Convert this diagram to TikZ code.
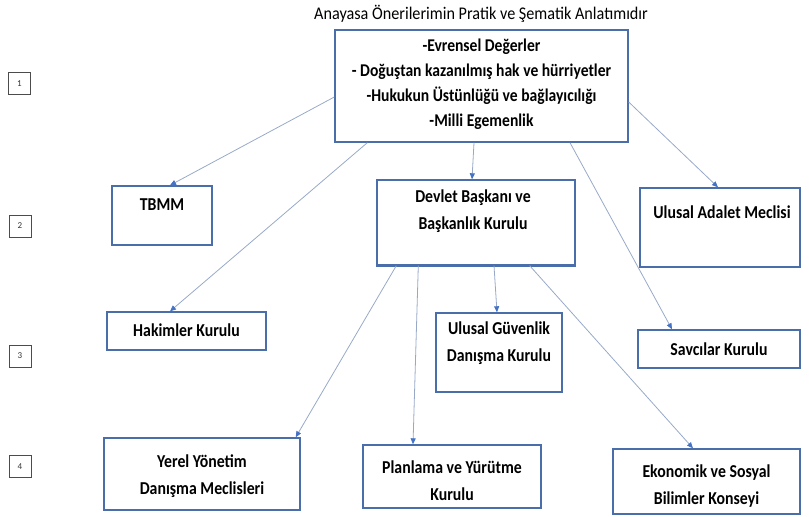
\documentclass[tikz,border=0pt]{standalone}
\usepackage{fontspec}
\setmainfont{Carlito}
\usetikzlibrary{arrows.meta}
\definecolor{boxblue}{HTML}{4A6EA9}
\definecolor{linecol}{HTML}{98A9C8}
\definecolor{tipcol}{HTML}{4472C4}
\tikzset{
  box/.style={draw=boxblue, line width=1.4pt, fill=white, inner sep=0pt},
  lbl/.style={font=\bfseries\fontsize{15.8}{23.5}\selectfont, align=center, inner sep=0pt, yscale=1.15, transform shape},
  numbox/.style={draw=black!70, line width=0.5pt, minimum width=22pt, minimum height=22pt, inner sep=0pt, font=\fontsize{9}{10}\selectfont, text=black!80},
  conn/.style={draw=linecol, line width=0.8pt, -{Triangle[width=5pt,length=6pt,color=tipcol]}}
}
\begin{document}
\begin{tikzpicture}[x=1pt,y=-1pt]
\useasboundingbox (0,0) rectangle (809,517);
% title
\node[font=\fontsize{16.2}{18}\selectfont, inner sep=0pt, yscale=1.1, transform shape] (title) at (481,14) {Anayasa Önerilerimin Pratik ve Şematik Anlatımıdır};
% number boxes
\node[numbox] (n1) at (19.5,83.5) {1};
\node[numbox] (n2) at (20,226) {2};
\node[numbox] (n3) at (20,356) {3};
\node[numbox] (n4) at (20,466.5) {4};
% boxes
\node[box, minimum width=293pt, minimum height=112pt] (top) at (481.5,86) {};
\node[lbl, font=\bfseries\fontsize{15.6}{21.8}\selectfont] (topT) at (481.5,84.5) {-Evrensel Değerler\\- Doğuştan kazanılmış hak ve hürriyetler\\-Hukukun Üstünlüğü ve bağlayıcılığı\\-Milli Egemenlik};
\node[box, minimum width=100pt, minimum height=59pt] (tbmm) at (162,215.5) {};
\node[lbl] (tbmmT) at (162,205) {TBMM};
\node[box, minimum width=198pt, minimum height=85pt] (dev) at (476,222.5) {};
\draw[boxblue, line width=3pt] ([xshift=-0.5pt]dev.south west) -- ([xshift=0.5pt]dev.south east);
\node[lbl] (devT) at (473,211.5) {Devlet Başkanı ve\\Başkanlık Kurulu};
\node[box, minimum width=160pt, minimum height=79pt] (uam) at (720,227.5) {};
\node[lbl] (uamT) at (722,212) {Ulusal Adalet Meclisi};
\node[box, minimum width=159pt, minimum height=38pt] (hak) at (186.5,331) {};
\node[lbl] (hakT) at (186.5,330) {Hakimler Kurulu};
\node[box, minimum width=126pt, minimum height=79pt] (ug) at (499,352.5) {};
\node[lbl] (ugT) at (499,343.5) {Ulusal Güvenlik\\Danışma Kurulu};
\node[box, minimum width=162pt, minimum height=38pt] (sav) at (719,349) {};
\node[lbl] (savT) at (719,349) {Savcılar Kurulu};
\node[box, minimum width=196pt, minimum height=72pt] (yer) at (202,474) {};
\node[lbl] (yerT) at (202,476) {Yerel Yönetim\\Danışma Meclisleri};
\node[box, minimum width=178pt, minimum height=63pt] (pla) at (452,476.5) {};
\node[lbl] (plaT) at (452,481) {Planlama ve Yürütme\\Kurulu};
\node[box, minimum width=187pt, minimum height=65pt] (eko) at (706.5,481.5) {};
\node[lbl] (ekoT) at (706.5,486.5) {Ekonomik ve Sosyal\\Bilimler Konseyi};
% connectors
\draw[conn] ([yshift=-11pt]top.west) -- ([xshift=8pt]tbmm.north);
\draw[conn] ([xshift=33pt]top.south west) -- ([xshift=-16.5pt]hak.north);
\draw[conn] ([xshift=-7.5pt]top.south) -- ([xshift=-4pt]dev.north);
\draw[conn] ([xshift=88.5pt]top.south) -- ([xshift=-47pt]sav.north);
\draw[conn] ([yshift=-16pt]top.east) -- ([xshift=-2pt]uam.north);
\draw[conn] ([xshift=20pt]dev.south west) -- ([xshift=-5pt]yer.north east);
\draw[conn] ([xshift=42pt]dev.south west) -- ([xshift=-39pt]pla.north);
\draw[conn] ([xshift=18pt]dev.south) -- ([xshift=-2pt]ug.north);
\draw[conn] ([xshift=-46pt]dev.south east) -- ([xshift=-13.5pt]eko.north);
\end{tikzpicture}
\end{document}
